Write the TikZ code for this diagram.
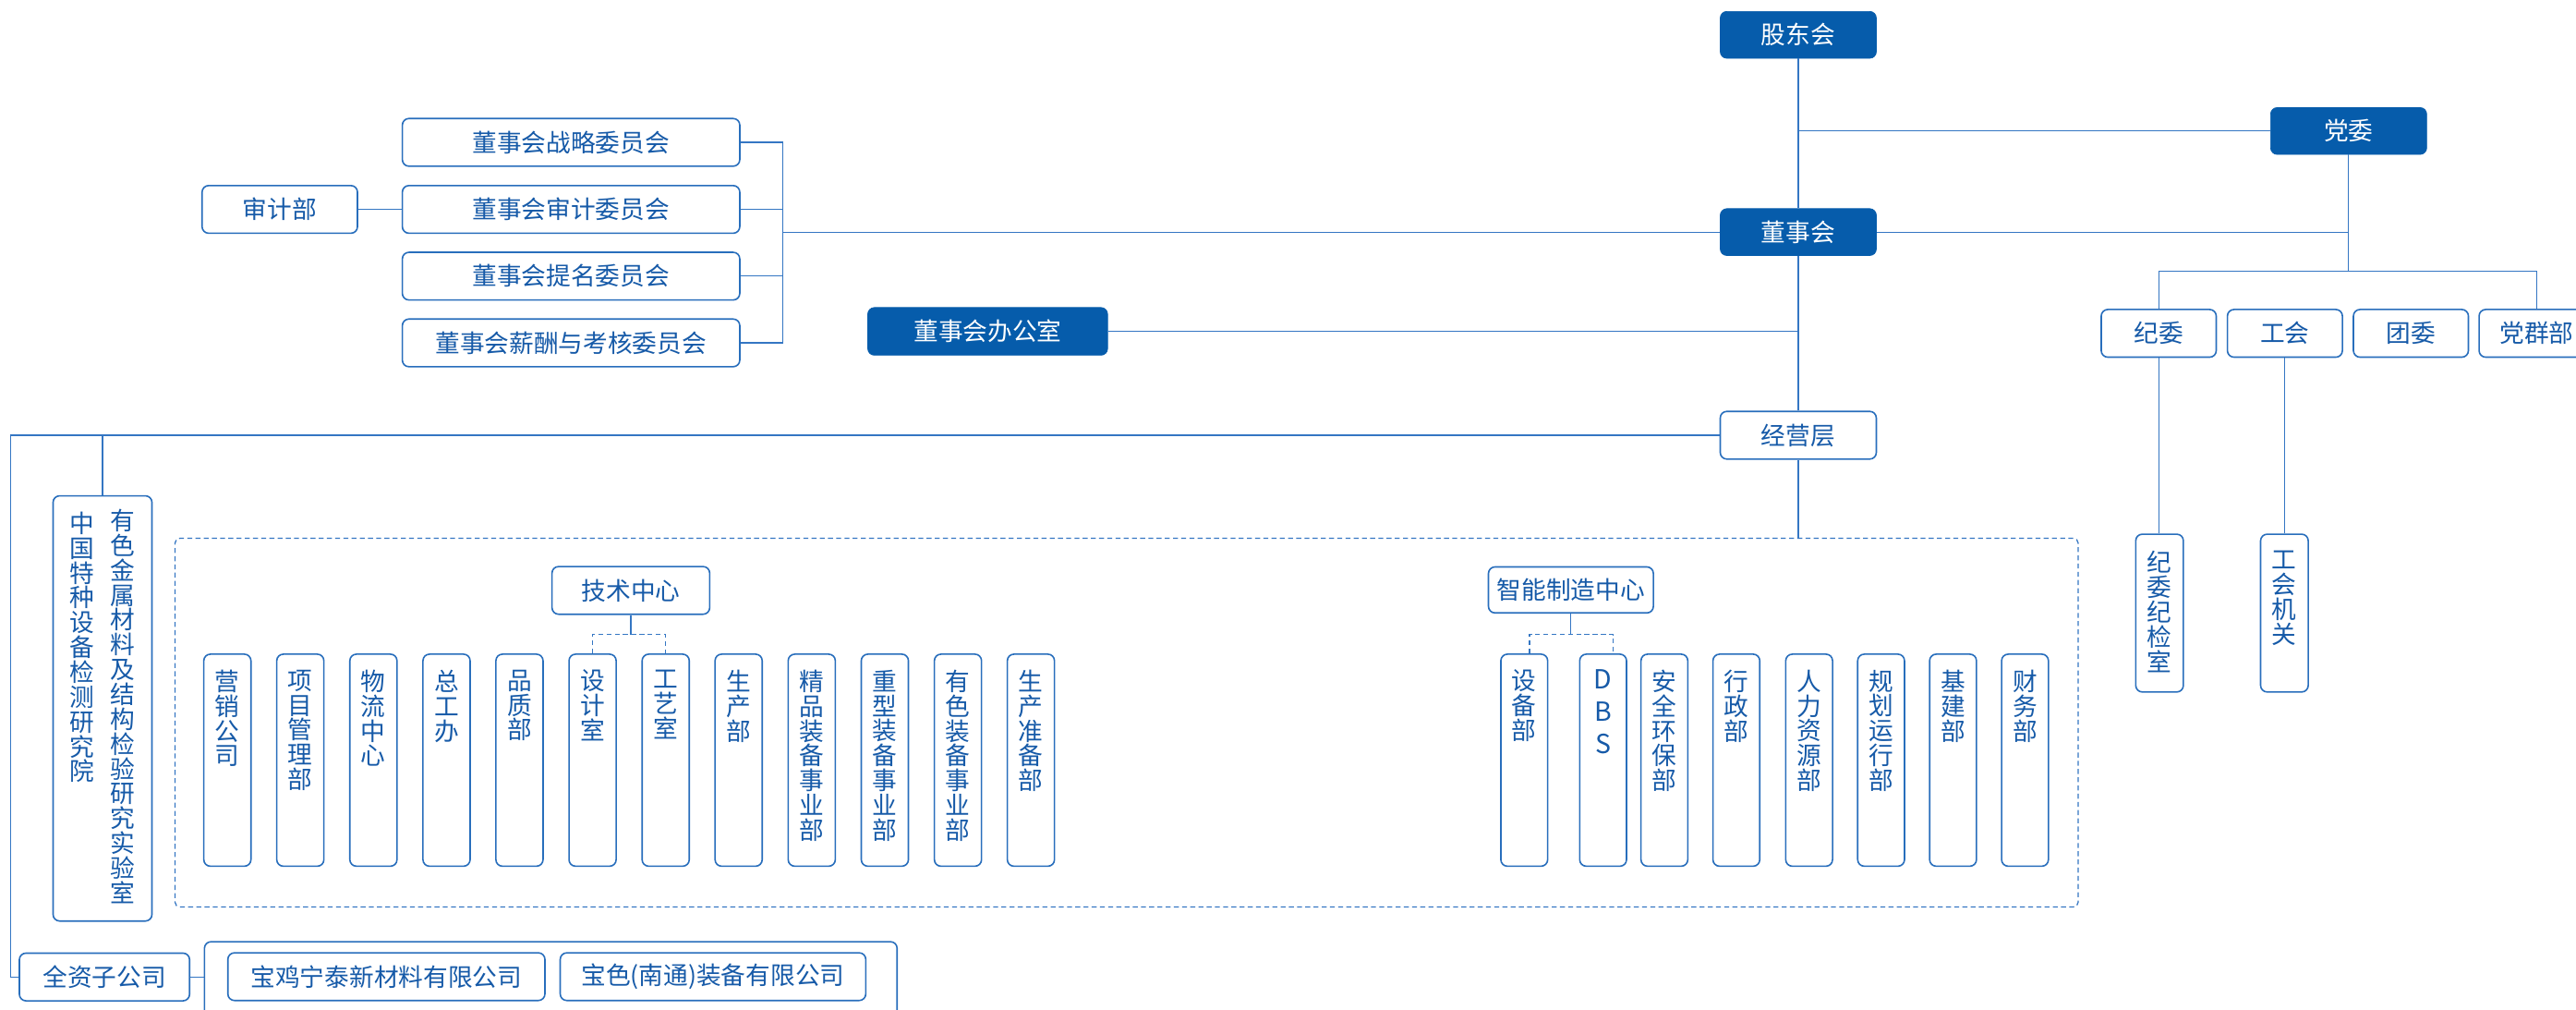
\documentclass[tikz,border=0pt]{standalone}
\usepackage{fontspec}
\setmainfont{Noto Sans CJK SC}
\definecolor{fillblue}{RGB}{6,92,171}
\definecolor{bordblue}{RGB}{40,110,188}
\definecolor{lineblue}{RGB}{52,118,195}
\definecolor{textblue}{RGB}{22,90,168}
\newcommand\myfs{\fontsize{15pt}{15pt}\selectfont}
\newcommand\myvfs{\fontsize{15pt}{15.1pt}\selectfont\lineskiplimit=-20pt\lineskip=0pt}
\newcommand\mydfs{\fontsize{16pt}{19.6pt}\selectfont\lineskiplimit=-20pt\lineskip=0pt}
\tikzset{
  fbox/.style={draw=fillblue, fill=fillblue, rounded corners=4pt, text=white, inner sep=0pt, minimum height=28.5pt, font=\myfs},
  obox/.style={draw=bordblue, line width=0.9pt, fill=white, rounded corners=4pt, text=textblue, inner sep=0pt, minimum height=29pt, font=\myfs},
  vbox/.style={draw=bordblue, line width=0.9pt, fill=white, rounded corners=4pt, inner sep=0pt, minimum width=28.7pt, minimum height=129pt},
  vtext/.style={anchor=north, inner sep=0pt, align=center, text=textblue, font=\myvfs},
  conn/.style={draw=lineblue, line width=0.7pt},
  dconn/.style={draw=lineblue, line width=0.7pt, dash pattern=on 3pt off 2pt},
}
\begin{document}
\begin{tikzpicture}[x=1pt,y=-1pt]
\useasboundingbox (0,0) rectangle (1568,614);
\clip (0,0) rectangle (1568,614);
\fill[white] (0,0) rectangle (1568,614);

% ---------- top level ----------
\node[fbox, minimum width=95pt] (gd) at (1094.6,21.2) {股东会};
\node[fbox, minimum width=95pt] (dw) at (1429.6,79.7) {党委};
\node[fbox, minimum width=95pt] (dsh) at (1094.6,141.2) {董事会};
\node[fbox, minimum width=146pt, minimum height=29pt] (bgs) at (601.2,201.6) {董事会办公室};
\node[obox, minimum width=95pt] (jyc) at (1094.6,264.8) {经营层};

% ---------- committees ----------
\node[obox, minimum width=205.4pt] (zl) at (347.6,86.6) {董事会战略委员会};
\node[obox, minimum width=205.4pt] (sj) at (347.6,127.4) {董事会审计委员会};
\node[obox, minimum width=205.4pt] (tm) at (347.6,168) {董事会提名委员会};
\node[obox, minimum width=205.4pt] (xc) at (347.6,208.6) {董事会薪酬与考核委员会};
\node[obox, minimum width=94.6pt] (sjb) at (170.3,127.4) {审计部};

% ---------- party ----------
\node[obox, minimum width=70pt] (jw) at (1314,202.8) {纪委};
\node[obox, minimum width=70pt] (gh) at (1390.8,202.8) {工会};
\node[obox, minimum width=70pt] (tw) at (1467.5,202.8) {团委};
\node[obox, minimum width=70pt] (dqb) at (1544,202.8) {党群部};
\node[vbox, minimum width=29pt, minimum height=96pt] (jwjs) at (1314.5,373) {};
\node[vtext] at ([yshift=-10.5pt]jwjs.north) {纪\\委\\纪\\检\\室};
\node[vbox, minimum width=29pt, minimum height=96pt] (ghjg) at (1390.5,373) {};
\node[vtext] at ([yshift=-10.5pt]ghjg.north) {工\\会\\机\\关};

% ---------- connectors top ----------
\draw[conn] (gd) -- (dsh);
\draw[conn] (gd.south |- dw.west) -- (dw.west);
\draw[conn] (dsh.east) -- (dw.south |- dsh.east);
\coordinate (pj) at (1429.6,164.8);
\draw[conn] (dw.south) -- (pj);
\draw[conn] (jw.north) -- (jw.north |- pj) -- (dqb.north |- pj) -- (dqb.north);
\draw[conn] (jw.south) -- (jw.south |- jwjs.north);
\draw[conn] (gh.south) -- (gh.south |- ghjg.north);
\draw[conn] (dsh) -- (jyc);
\draw[conn] (bgs.east) -- (dsh.south |- bgs.east);
\coordinate (br) at (476.4,141.2);
\draw[conn] (zl.east) -- (zl.east -| br) -- (xc.east -| br) -- (xc.east);
\draw[conn] (sj.east) -- (sj.east -| br);
\draw[conn] (tm.east) -- (tm.east -| br);
\draw[conn] (br) -- (dsh.west);
\draw[conn] (sjb.east) -- (sj.west);

% ---------- research institute ----------
\node[vbox, minimum width=60.2pt, minimum height=258.7pt] (ys) at (62.4,431) {};
\node[vtext] at (74.9,309.6) {有\\色\\金\\属\\材\\料\\及\\结\\构\\检\\验\\研\\究\\实\\验\\室};
\node[vtext] at (50.2,311.2) {中\\国\\特\\种\\设\\备\\检\\测\\研\\究\\院};

% ---------- subsidiaries ----------
\node[obox, minimum width=103.6pt] (qz) at (63.6,594.4) {全资子公司};
\node[obox, minimum width=421.6pt, minimum height=57.5pt, anchor=north west] (zgs) at (124,572.5) {};
\node[obox, minimum width=193pt] (bj) at (235.2,594.2) {宝鸡宁泰新材料有限公司};
\node[obox, minimum width=186pt] (bs) at (434,594.2) {宝色(南通)装备有限公司};
\draw[conn] (qz.east) -- (qz.east -| zgs.west);

\coordinate (lx) at (6.5,264.8);
\draw[conn] (jyc.west) -- (lx) -- (lx |- qz.west) -- (qz.west);
\draw[conn] (ys.north |- jyc.west) -- (ys.north);

% ---------- dashed group ----------
\node[draw=lineblue, line width=0.7pt, dash pattern=on 3pt off 2pt, rounded corners=3pt, minimum width=1158.5pt, minimum height=224.3pt, inner sep=0pt] (grp) at (685.75,439.65) {};
\draw[conn] (jyc.south) -- (jyc.south |- grp.north);

\node[obox, minimum width=96pt] (jszx) at (384,359.2) {技术中心};
\node[obox, minimum width=100.4pt, minimum height=28pt] (znzz) at (956.2,358.9) {智能制造中心};

% left group of departments
\foreach \cx/\nm/\tx in {
  138.4/yx/营\\销\\公\\司,
  182.8/xm/项\\目\\管\\理\\部,
  227.3/wl/物\\流\\中\\心,
  271.8/zg/总\\工\\办,
  316.2/pz/品\\质\\部,
  360.7/sjs/设\\计\\室,
  405.2/gy/工\\艺\\室,
  449.6/scb/生\\产\\部,
  494.1/jp/精\\品\\装\\备\\事\\业\\部,
  538.6/zx/重\\型\\装\\备\\事\\业\\部,
  583.1/ysb/有\\色\\装\\备\\事\\业\\部,
  627.5/sczb/生\\产\\准\\备\\部}{
  \node[vbox] (\nm) at (\cx,462.5) {};
  \node[vtext] at ([yshift=-9.8pt]\nm.north) {\tx};
}
% right group of departments
\foreach \cx/\nm/\tx in {
  927.8/sbb/设\\备\\部,
  1013.1/aq/安\\全\\环\\保\\部,
  1056.9/xz/行\\政\\部,
  1101.2/rl/人\\力\\资\\源\\部,
  1145.0/gh2/规\\划\\运\\行\\部,
  1188.8/jj/基\\建\\部,
  1232.6/cw/财\\务\\部}{
  \node[vbox, minimum width=28.5pt] (\nm) at (\cx,462.5) {};
  \node[vtext] at ([yshift=-9.8pt]\nm.north) {\tx};
}
\node[vbox, minimum width=28.5pt] (dbs) at (975.8,462.5) {};
\node[vtext, font=\mydfs] at ([yshift=-9.8pt]dbs.north) {D\\B\\S};

% technology centre connectors
\coordinate (tj) at (384,386);
\draw[conn] (jszx.south) -- (tj);
\draw[dconn] (sjs.north) -- (sjs.north |- tj) -- (gy.north |- tj) -- (gy.north);
% intelligent manufacturing connectors
\coordinate (zj) at (956.2,386);
\coordinate (zj1) at (931,386);
\coordinate (zj2) at (982,386);
\draw[conn] (znzz.south) -- (zj);
\draw[dconn] (zj1 |- sbb.north) -- (zj1) -- (zj2) -- (zj2 |- dbs.north);
\end{tikzpicture}
\end{document}
